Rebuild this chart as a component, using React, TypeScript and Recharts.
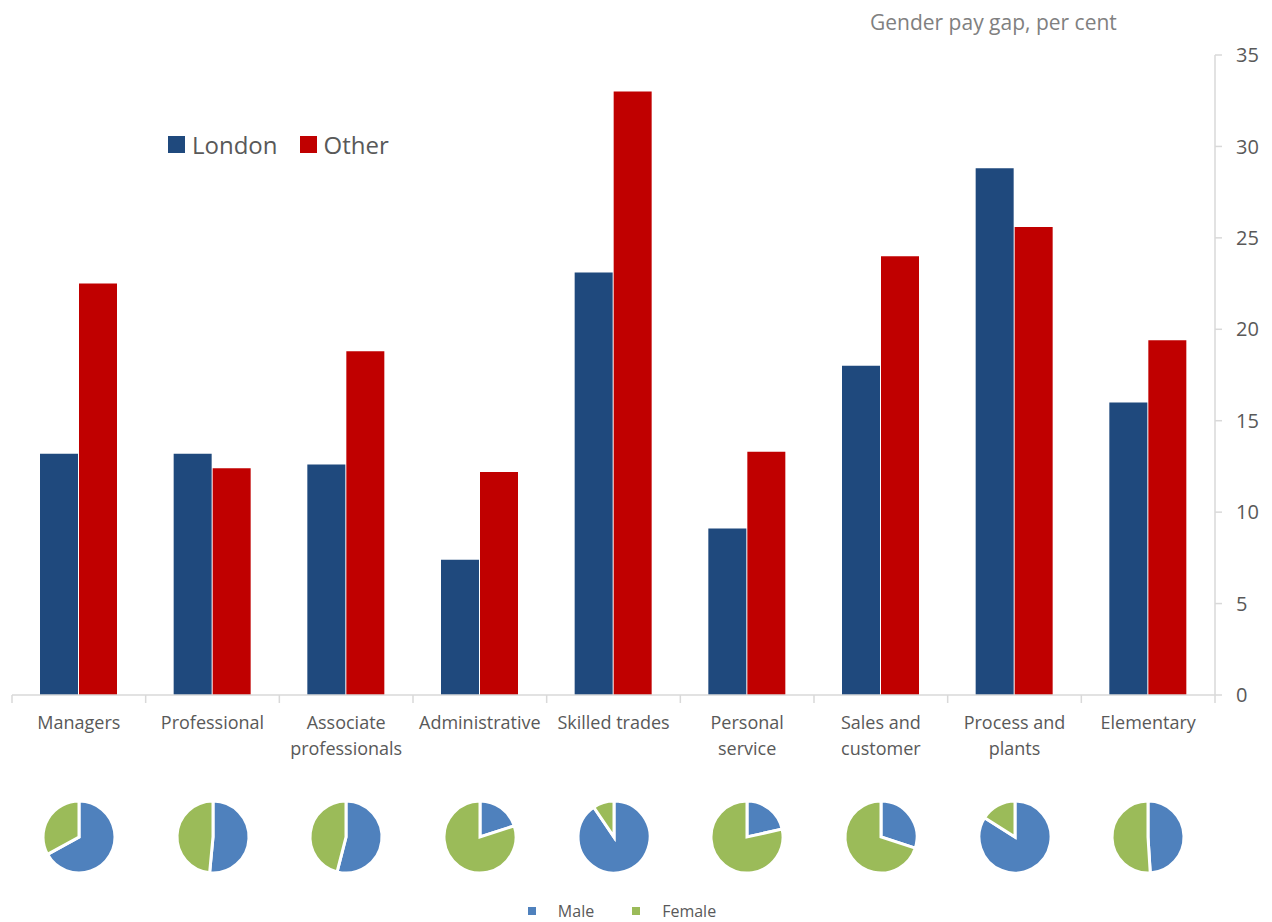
import React from "react";
import { BarChart, Bar, XAxis, YAxis, PieChart, Pie, Cell } from "recharts";

const categories = [
  "Managers",
  "Professional",
  "Associate\nprofessionals",
  "Administrative",
  "Skilled trades",
  "Personal\nservice",
  "Sales and\ncustomer",
  "Process and\nplants",
  "Elementary",
];
const londonGap = [13.2, 13.2, 12.6, 7.4, 23.1, 9.1, 18.0, 28.8, 16.0];
const otherGap = [22.5, 12.4, 18.8, 12.2, 33.0, 13.3, 24.0, 25.6, 19.4];
const maleShare = [67, 51.5, 54, 20, 90.5, 21.5, 30, 84, 49];
const yTicks = [0, 5, 10, 15, 20, 25, 30, 35];
const seriesNames = ["London", "Other"];
const pieNames = ["Male", "Female"];

const LONDON = "#1F497D";
const OTHER = "#C00000";
const MALE = "#4F81BD";
const FEMALE = "#9BBB59";
const TEXT = "#595959";
const AXIS = "#D9D9D9";
const FONT = "'Open Sans', 'Noto Sans', sans-serif";

const barData = categories.map((c, i) => ({ name: c, London: londonGap[i], Other: otherGap[i] }));

const W = 1264;
const H = 770;
const PLOT_LEFT = 4;
const PLOT_RIGHT = 1207;
const BAND = (PLOT_RIGHT - PLOT_LEFT) / categories.length;

const CatTick = (props: any) => {
  const { x, y, payload, index } = props;
  const lines = String(payload.value).split("\n");
  return (
    <g>
      <line x1={x - BAND / 2} x2={x - BAND / 2} y1={y - 8} y2={y} stroke={AXIS} strokeWidth={1.5} />
      {index === categories.length - 1 && (
        <line x1={x + BAND / 2} x2={x + BAND / 2} y1={y - 8} y2={y} stroke={AXIS} strokeWidth={1.5} />
      )}
      <text x={x} y={y + 26} textAnchor="middle" fill={TEXT} fontSize={18} fontFamily={FONT}>
        {lines.map((l, k) => (
          <tspan key={k} x={x} dy={k === 0 ? 0 : 26}>
            {l}
          </tspan>
        ))}
      </text>
    </g>
  );
};

export default function App() {
  const seriesColors = [LONDON, OTHER];
  const pieColors = [MALE, FEMALE];
  return (
    <div style={{ position: "relative", width: W, height: 914, fontFamily: FONT }}>
      <div
        style={{
          position: "absolute",
          left: 862,
          top: 0,
          fontSize: 21,
          color: "#808080",
          fontFamily: FONT,
          whiteSpace: "nowrap",
        }}
      >
        Gender pay gap, per cent
      </div>
      <BarChart
        width={W}
        height={H}
        data={barData}
        margin={{ top: 47, left: PLOT_LEFT, right: 7, bottom: 13 }}
        barCategoryGap={28}
        barGap={1}
      >
        <XAxis
          dataKey="name"
          interval={0}
          axisLine={{ stroke: AXIS, strokeWidth: 1.5 }}
          tickLine={false}
          tick={<CatTick />}
          height={70}
        />
        <YAxis
          orientation="right"
          domain={[0, 35]}
          ticks={yTicks}
          width={50}
          axisLine={{ stroke: AXIS, strokeWidth: 1.5 }}
          tickLine={{ stroke: AXIS, strokeWidth: 1.5 }}
          tickSize={7}
          tickMargin={14}
          tick={{ fill: TEXT, fontSize: 20, fontFamily: FONT }}
        />
        <Bar dataKey="London" fill={LONDON} isAnimationActive={false} />
        <Bar dataKey="Other" fill={OTHER} isAnimationActive={false} />
      </BarChart>

      <div
        style={{
          position: "absolute",
          left: 160,
          top: 120,
          display: "flex",
          alignItems: "center",
          fontFamily: FONT,
        }}
      >
        {seriesNames.map((n, i) => (
          <div key={n} style={{ display: "flex", alignItems: "center", marginRight: 22 }}>
            <span style={{ width: 17, height: 17, background: seriesColors[i], display: "inline-block", marginRight: 7 }} />
            <span style={{ fontSize: 24, color: TEXT }}>{n}</span>
          </div>
        ))}
      </div>

      {categories.map((c, i) => {
        const data = [
          { name: pieNames[0], value: maleShare[i] },
          { name: pieNames[1], value: 100 - maleShare[i] },
        ];
        return (
          <div
            key={c}
            style={{ position: "absolute", left: PLOT_LEFT + i * BAND, top: 784, width: BAND, height: 90 }}
          >
            <PieChart width={Math.round(BAND)} height={90} margin={{ top: 0, left: 0, right: 0, bottom: 0 }}>
              <Pie
                data={data}
                dataKey="value"
                cx="50%"
                cy={45}
                outerRadius={36}
                startAngle={90}
                endAngle={-270}
                stroke="#FFFFFF"
                strokeWidth={3}
                isAnimationActive={false}
              >
                <Cell fill={MALE} />
                <Cell fill={FEMALE} />
              </Pie>
            </PieChart>
          </div>
        );
      })}

      <div
        style={{
          position: "absolute",
          left: 0,
          top: 892,
          width: 1228,
          display: "flex",
          justifyContent: "center",
          alignItems: "center",
          fontSize: 16,
          color: TEXT,
          fontFamily: FONT,
        }}
      >
        {pieNames.map((n, i) => (
          <React.Fragment key={n}>
            <span style={{ width: 8, height: 8, background: pieColors[i], display: "inline-block", marginRight: 22 }} />
            <span style={{ marginRight: i === 0 ? 38 : 0 }}>{n}</span>
          </React.Fragment>
        ))}
      </div>
    </div>
  );
}
